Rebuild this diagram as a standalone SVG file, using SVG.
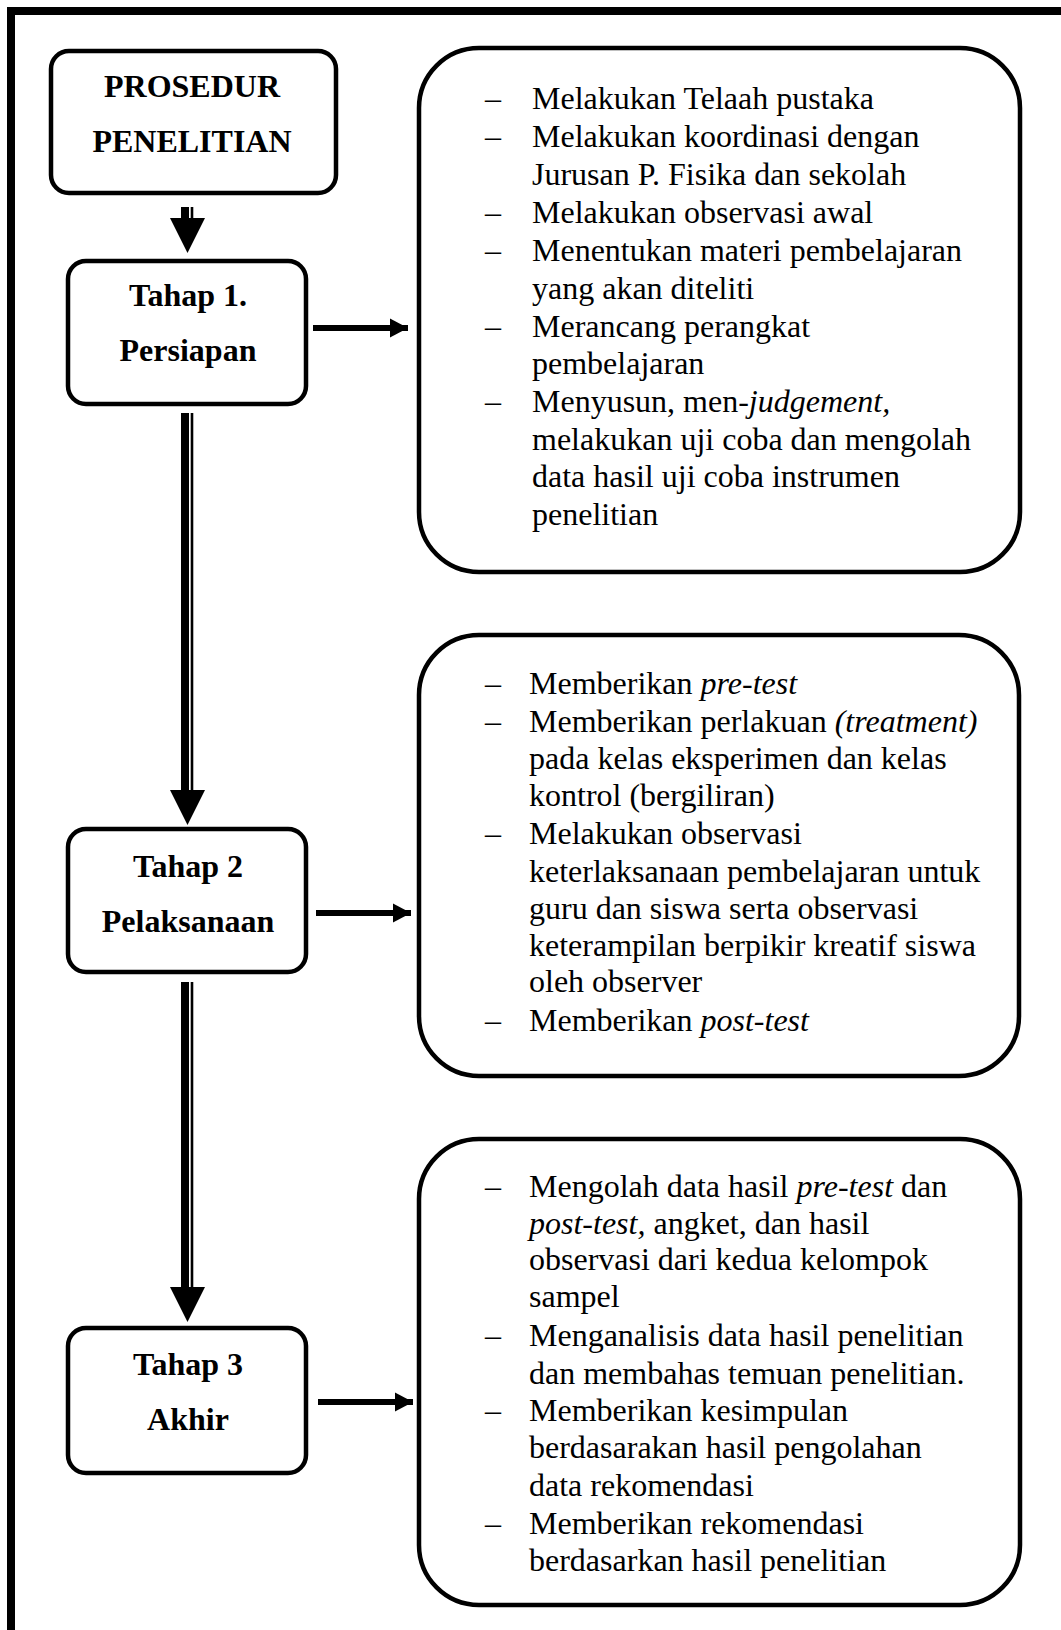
<svg xmlns="http://www.w3.org/2000/svg" width="1061" height="1630" viewBox="0 0 1061 1630">
<style>
.box{fill:#fff;stroke:#000;stroke-width:4.5}
.frame{fill:none;stroke:#000;stroke-width:8}
.hd{font-family:"Liberation Serif","Times New Roman",serif;font-weight:bold;font-size:32px;text-anchor:middle;fill:#000}
.bd{font-family:"Liberation Serif","Times New Roman",serif;font-size:32px;fill:#000}
.it{font-style:italic}
.hline{stroke:#000;stroke-width:6;fill:none}
.thick{stroke:#000;stroke-width:8;fill:none}
.thin{stroke:#000;stroke-width:2.6;fill:none}
</style>
<defs>
<marker id="ah" markerUnits="userSpaceOnUse" markerWidth="20" markerHeight="20" refX="18" refY="10" orient="auto">
<path d="M0,0.5 L18,10 L0,19.5 Z" fill="#000"/>
</marker>
</defs>
<rect class="frame" x="11" y="11" width="1200" height="1700"/>

<g id="connectors">
<line class="thick" x1="185" y1="207" x2="185" y2="219"/>
<line class="thin" x1="192" y1="207" x2="192" y2="219"/>
<path d="M170,218 L205,218 L187.5,253 Z" fill="#000"/>
<line class="thick" x1="185" y1="413" x2="185" y2="791"/>
<line class="thin" x1="192" y1="413" x2="192" y2="791"/>
<path d="M170,790 L205,790 L187.5,825 Z" fill="#000"/>
<line class="thick" x1="185" y1="982" x2="185" y2="1288"/>
<line class="thin" x1="192" y1="982" x2="192" y2="1288"/>
<path d="M170,1287 L205,1287 L187.5,1322 Z" fill="#000"/>
<line class="hline" x1="313" y1="328" x2="408" y2="328" marker-end="url(#ah)"/>
<line class="hline" x1="316" y1="913" x2="411" y2="913" marker-end="url(#ah)"/>
<line class="hline" x1="318" y1="1402" x2="413" y2="1402" marker-end="url(#ah)"/>
</g>

<g id="prosedur">
<rect class="box" x="51" y="51" width="285" height="142" rx="18"/>
<text class="hd" x="192" y="97">PROSEDUR</text>
<text class="hd" x="192" y="152">PENELITIAN</text>
</g>

<g id="tahap1">
<rect class="box" x="68" y="261" width="238" height="143" rx="18"/>
<text class="hd" x="188" y="306">Tahap 1.</text>
<text class="hd" x="188" y="361">Persiapan</text>
</g>

<g id="tahap2">
<rect class="box" x="68" y="829" width="238" height="143" rx="18"/>
<text class="hd" x="188" y="877">Tahap 2</text>
<text class="hd" x="188" y="932">Pelaksanaan</text>
</g>

<g id="tahap3">
<rect class="box" x="68" y="1328" width="238" height="145" rx="18"/>
<text class="hd" x="188" y="1375">Tahap 3</text>
<text class="hd" x="188" y="1430">Akhir</text>
</g>

<g id="persiapan-detail">
<rect class="box" x="419" y="48" width="601" height="524" rx="60"/>
<text class="bd" x="485" y="109">–</text><text class="bd" x="532" y="109">Melakukan Telaah pustaka</text>
<text class="bd" x="485" y="147">–</text><text class="bd" x="532" y="147">Melakukan koordinasi dengan</text>
<text class="bd" x="532" y="185">Jurusan P. Fisika dan sekolah</text>
<text class="bd" x="485" y="223">–</text><text class="bd" x="532" y="223">Melakukan observasi awal</text>
<text class="bd" x="485" y="261">–</text><text class="bd" x="532" y="261">Menentukan materi pembelajaran</text>
<text class="bd" x="532" y="299">yang akan diteliti</text>
<text class="bd" x="485" y="337">–</text><text class="bd" x="532" y="337">Merancang perangkat</text>
<text class="bd" x="532" y="374">pembelajaran</text>
<text class="bd" x="485" y="412">–</text><text class="bd" x="532" y="412">Menyusun, men-<tspan class="it">judgement,</tspan></text>
<text class="bd" x="532" y="450">melakukan uji coba dan mengolah</text>
<text class="bd" x="532" y="487">data hasil uji coba instrumen</text>
<text class="bd" x="532" y="525">penelitian</text>
</g>

<g id="pelaksanaan-detail">
<rect class="box" x="419" y="635" width="600" height="441" rx="60"/>
<text class="bd" x="485" y="694">–</text><text class="bd" x="529" y="694">Memberikan <tspan class="it">pre-test</tspan></text>
<text class="bd" x="485" y="732">–</text><text class="bd" x="529" y="732">Memberikan perlakuan <tspan class="it">(treatment)</tspan></text>
<text class="bd" x="529" y="769">pada kelas eksperimen dan kelas</text>
<text class="bd" x="529" y="806">kontrol (bergiliran)</text>
<text class="bd" x="485" y="844">–</text><text class="bd" x="529" y="844">Melakukan observasi</text>
<text class="bd" x="529" y="882">keterlaksanaan pembelajaran untuk</text>
<text class="bd" x="529" y="919">guru dan siswa serta observasi</text>
<text class="bd" x="529" y="956">keterampilan berpikir kreatif siswa</text>
<text class="bd" x="529" y="992">oleh observer</text>
<text class="bd" x="485" y="1031">–</text><text class="bd" x="529" y="1031">Memberikan <tspan class="it">post-test</tspan></text>
</g>

<g id="akhir-detail">
<rect class="box" x="419" y="1139" width="601" height="466" rx="60"/>
<text class="bd" x="485" y="1197">–</text><text class="bd" x="529" y="1197">Mengolah data hasil <tspan class="it">pre-test</tspan> dan</text>
<text class="bd" x="529" y="1234"><tspan class="it">post-test,</tspan> angket, dan hasil</text>
<text class="bd" x="529" y="1270">observasi dari kedua kelompok</text>
<text class="bd" x="529" y="1307">sampel</text>
<text class="bd" x="485" y="1346">–</text><text class="bd" x="529" y="1346">Menganalisis data hasil penelitian</text>
<text class="bd" x="529" y="1384">dan membahas temuan penelitian.</text>
<text class="bd" x="485" y="1421">–</text><text class="bd" x="529" y="1421">Memberikan kesimpulan</text>
<text class="bd" x="529" y="1458">berdasarakan hasil pengolahan</text>
<text class="bd" x="529" y="1496">data rekomendasi</text>
<text class="bd" x="485" y="1534">–</text><text class="bd" x="529" y="1534">Memberikan rekomendasi</text>
<text class="bd" x="529" y="1571">berdasarkan hasil penelitian</text>
</g>
</svg>
